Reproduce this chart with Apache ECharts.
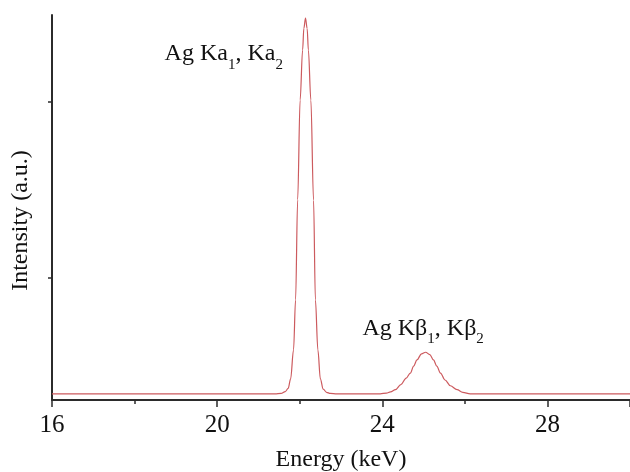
<!DOCTYPE html>
<html>
<head>
<meta charset="utf-8">
<script src="https://cdn.jsdelivr.net/npm/echarts@6/dist/echarts.min.js"></script>
<style>html,body{margin:0;padding:0;background:#fff}#c{width:630px;height:472px}</style>
</head>
<body>
<div id="c"></div>
<script>
// Energy (keV) and intensity (a.u.)
var energy = [16, 21.4, 21.55, 21.65, 21.72, 21.78, 21.85, 21.90, 21.95, 22.01, 22.07, 22.10, 22.14, 22.18, 22.21, 22.27, 22.335, 22.38, 22.44, 22.50, 22.57, 22.65, 22.74, 22.9,
              23.95, 24.1, 24.2, 24.32, 24.45, 24.58, 24.68, 24.76, 24.84, 24.95, 25.05, 25.15, 25.24, 25.32, 25.41, 25.52, 25.65, 25.81, 25.95, 26.13, 30];
var intensity = [16, 16, 17, 22, 30, 55, 130, 260, 520, 779, 909, 965, 992, 965, 909, 779, 519, 260, 130, 55, 28, 20, 17, 16,
                 16, 18, 21, 27, 40, 57, 70, 88, 104, 120, 124, 118, 104, 88, 70, 52, 37, 27, 20, 16, 16];
var xTicks = [16, 20, 24, 28];
var yTickValues = [317, 774];
var peakLabels = [
  {text: '{n|Ag Ka}{s|1}{n|, Ka}{s|2}', at: [20.16, 893]},
  {text: '{n|Ag Kβ}{s|1}{n|, Kβ}{s|2}', at: [24.99, 181]}
];

var data = energy.map(function (e, i) { return [e, intensity[i]]; });
var serif = '"Liberation Serif", "Times New Roman", serif';
var axisColor = '#2b2b2b';

var chart = echarts.init(document.getElementById('c'));
chart.setOption({
  animation: false,
  backgroundColor: '#fff',
  grid: {left: 52, right: 0, top: 15, bottom: 72, containLabel: false, outerBoundsMode: 'none'},
  xAxis: {
    type: 'value', min: 16, max: 30, interval: 4,
    name: 'Energy (keV)', nameLocation: 'middle', nameGap: 48,
    nameTextStyle: {fontFamily: serif, fontSize: 24, color: '#111'},
    axisLine: {show: true, lineStyle: {color: axisColor, width: 2}},
    axisTick: {show: true, inside: false, length: 7, lineStyle: {color: axisColor, width: 1.5}},
    minorTick: {show: true, splitNumber: 2, length: 4, lineStyle: {color: axisColor, width: 1.5}},
    axisLabel: {fontFamily: serif, fontSize: 25, color: '#111', margin: 13,
      formatter: function (v) { return xTicks.indexOf(v) >= 0 ? String(v) : ''; }},
    splitLine: {show: false}
  },
  yAxis: {
    type: 'value', min: 0, max: 1000,
    name: 'Intensity (a.u.)', nameLocation: 'middle', nameGap: 19,
    nameTextStyle: {fontFamily: serif, fontSize: 24, color: '#111', padding: [0, 26, 0, 0]},
    axisLine: {show: true, lineStyle: {color: axisColor, width: 2}},
    axisTick: {show: true, inside: false, length: 4, customValues: yTickValues, lineStyle: {color: axisColor, width: 1.5}},
    axisLabel: {show: false},
    splitLine: {show: false}
  },
  series: [{
    type: 'line', data: data, showSymbol: false, smooth: 0.35, smoothMonotone: 'x',
    lineStyle: {color: '#cc5a5e', width: 1.2},
    markPoint: {
      symbol: 'circle', symbolSize: 0,
      label: {show: true, position: 'inside', color: '#111',
        rich: {
          n: {fontFamily: serif, fontSize: 24, color: '#111', lineHeight: 28, verticalAlign: 'top'},
          s: {fontFamily: serif, fontSize: 15, color: '#111', lineHeight: 15, verticalAlign: 'top', padding: [15, 0, 0, 0]}
        }},
      data: peakLabels.map(function (p) {
        return {coord: p.at, value: 0, label: {formatter: p.text}};
      })
    }
  }]
});
</script>
</body>
</html>
